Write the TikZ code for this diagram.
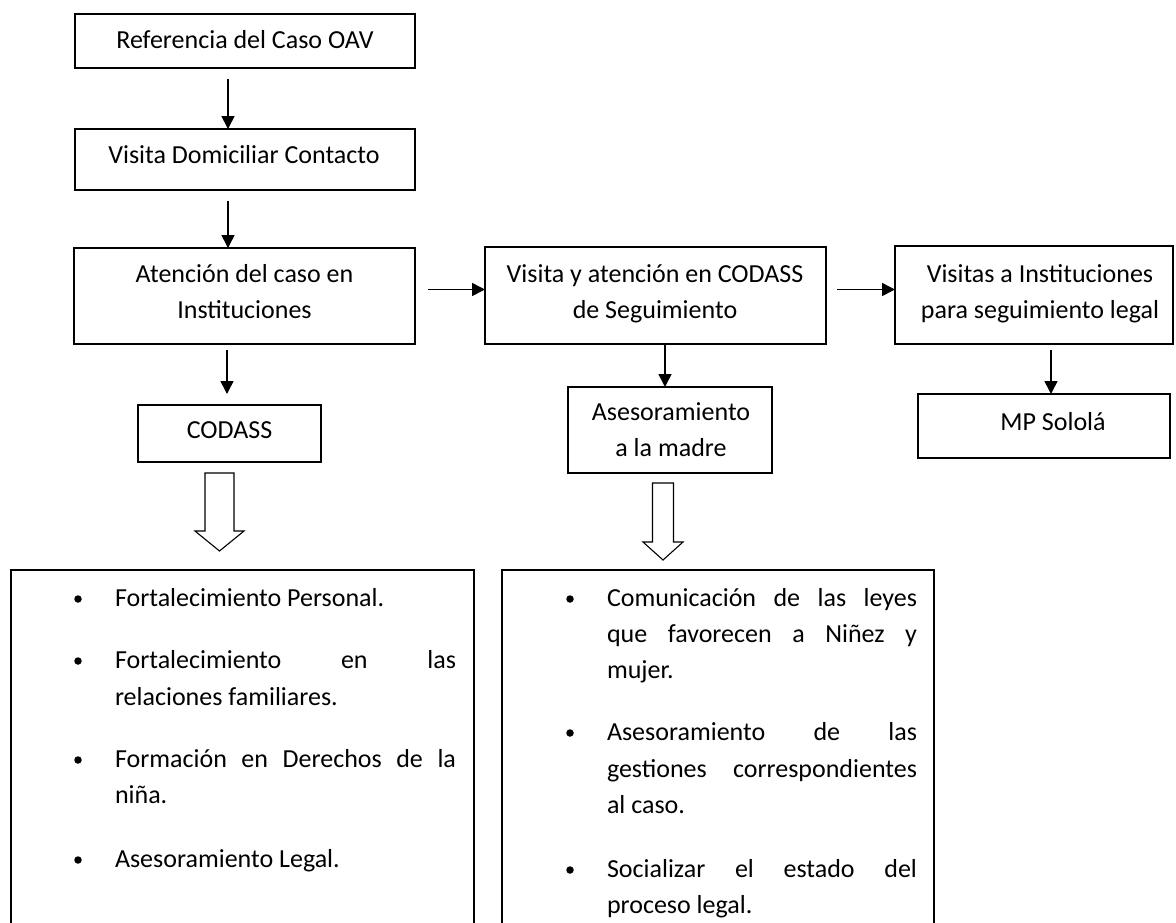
\documentclass[tikz,border=0pt]{standalone}
\usepackage{fontspec}
\setmainfont{Carlito}
\usetikzlibrary{arrows.meta}
\begin{document}
\begin{tikzpicture}[x=1pt,y=-1pt,
  box/.style={draw, line width=1.6pt, inner sep=0pt, outer sep=0pt},
  txt/.style={inner sep=0pt, outer sep=0pt, font=\fontsize{26}{31}\selectfont, anchor=base},
  ltxt/.style={txt, anchor=base west},
  arr/.style={line width=1.6pt, -{Triangle[width=13pt,length=13pt]}},
  bul/.style={circle, fill, inner sep=0pt, outer sep=0pt, minimum size=7.5pt},
  hollow/.style={draw, line width=1.1pt, fill=white, line join=miter}
]
\useasboundingbox (0,0) rectangle (1176,922);
\clip (0,0) rectangle (1176,922);
\fill[white] (0,0) rectangle (1176,922);

% boxes
\node[box, minimum width=340pt, minimum height=54pt] (ref) at (245,41) {};
\node[box, minimum width=340pt, minimum height=61pt] (vdom) at (245,159.5) {};
\node[box, minimum width=341pt, minimum height=96pt] (aten) at (244.5,296) {};
\node[box, minimum width=341pt, minimum height=97pt] (vis) at (655.5,295.5) {};
\node[box, minimum width=278pt, minimum height=98pt] (visi) at (1034,295) {};
\node[box, minimum width=183pt, minimum height=57pt] (cod) at (229.5,433.5) {};
\node[box, minimum width=204pt, minimum height=86pt] (ases) at (670,430) {};
\node[box, minimum width=252pt, minimum height=64pt] (mp) at (1044,426) {};
\node[box, minimum width=463pt, minimum height=400pt] (lbox) at (242.5,770) {};
\node[box, minimum width=432pt, minimum height=400pt] (rbox) at (718,770) {};

% box texts
\node[txt] (tref) at (245,48) {Referencia del Caso OAV};
\node[txt] (tvdom) at (244,163) {Visita Domiciliar Contacto};
\node[txt] (taten1) at (244.5,282) {Atención del caso en};
\node[txt] (taten2) at (244.5,318) {Instituciones};
\node[txt] (tvis1) at (655,282) {Visita y atención en CODASS};
\node[txt] (tvis2) at (655,318) {de Seguimiento};
\node[txt] (tvisi1) at (1040,282) {Visitas a Instituciones};
\node[txt] (tvisi2) at (1040,318) {para seguimiento legal};
\node[txt] (tcod) at (229.5,438) {CODASS};
\node[txt] (tases1) at (671,420) {Asesoramiento};
\node[txt] (tases2) at (671,456) {a la madre};
\node[txt] (tmp) at (1053,430) {MP Sololá};

% connectors
\coordinate (s1) at (228,79);
\coordinate (s2) at (228,201);
\coordinate (s3) at (227,350);
\coordinate (e3) at (227,394);
\coordinate (s4) at (428,289.5);
\coordinate (s5) at (837,289.5);
\coordinate (s7) at (1051,350);
\draw[arr] (s1) -- (s1 |- vdom.north);
\draw[arr] (s2) -- (s2 |- aten.north);
\draw[arr] (s3) -- (e3);
\draw[arr] (s4) -- (s4 -| vis.west);
\draw[arr] (s5) -- (s5 -| visi.west);
\draw[arr] (vis.south -| 665,0) -- (665,0 |- ases.north);
\draw[arr] (s7) -- (s7 |- mp.north);

% hollow block arrows
\draw[hollow] (205,473) -- (234,473) -- (234,531) -- (244,531) -- (219.5,551) -- (195,531) -- (205,531) -- cycle;
\draw[hollow] (652.5,483) -- (673.5,483) -- (673.5,542) -- (683,542) -- (663,560) -- (643,542) -- (652.5,542) -- cycle;

% left list
\node[bul] (lb1) at (78,599) {};
\node[ltxt] (l1) at (115,606) {Fortalecimiento Personal.};
\node[bul] (lb2) at (78,661) {};
\node[ltxt] (l2) at (115,668) {\makebox[341pt][s]{Fortalecimiento en las}};
\node[ltxt] (l3) at (115,705) {relaciones familiares.};
\node[bul] (lb3) at (78,760) {};
\node[ltxt] (l4) at (115,767) {\makebox[341pt][s]{Formación en Derechos de la}};
\node[ltxt] (l5) at (115,803) {niña.};
\node[bul] (lb4) at (78,860) {};
\node[ltxt] (l6) at (115,867) {Asesoramiento Legal.};

% right list
\node[bul] (rb1) at (570,599) {};
\node[ltxt] (r1) at (607,606) {\makebox[310pt][s]{Comunicación de las leyes}};
\node[ltxt] (r2) at (607,642) {\makebox[310pt][s]{que favorecen a Niñez y}};
\node[ltxt] (r3) at (607,678) {mujer.};
\node[bul] (rb2) at (570,733) {};
\node[ltxt] (r4) at (607,740) {\makebox[310pt][s]{Asesoramiento de las}};
\node[ltxt] (r5) at (607,777) {\makebox[310pt][s]{gestiones correspondientes}};
\node[ltxt] (r6) at (607,813) {al caso.};
\node[bul] (rb3) at (570,870) {};
\node[ltxt] (r7) at (607,877) {\makebox[310pt][s]{Socializar el estado del}};
\node[ltxt] (r8) at (607,913) {proceso legal.};
\end{tikzpicture}
\end{document}
